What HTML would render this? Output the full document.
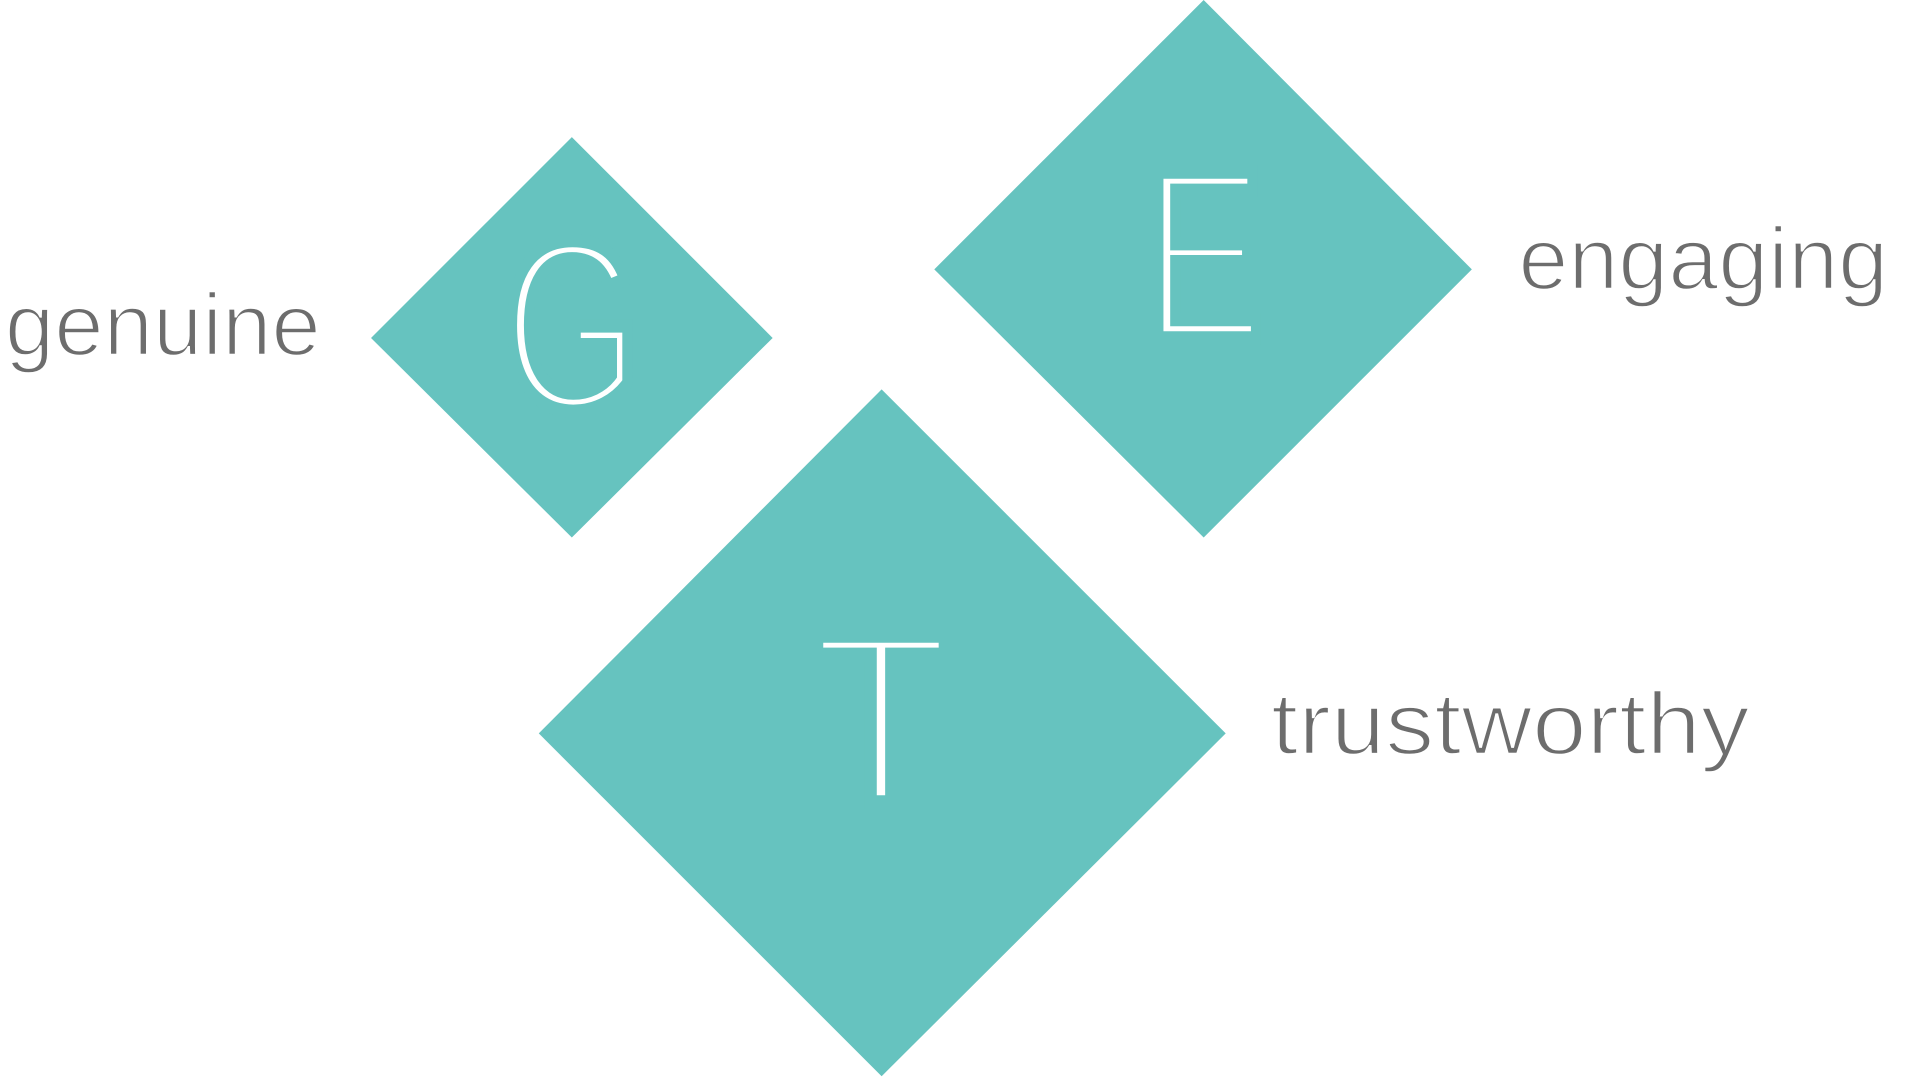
<!DOCTYPE html>
<html><head><meta charset="utf-8"><style>
html,body{margin:0;padding:0;background:#fff;width:1920px;height:1077px;overflow:hidden}
svg{display:block}
</style></head><body>
<svg width="1920" height="1077" viewBox="0 0 1568 879.6" preserveAspectRatio="none" xmlns="http://www.w3.org/2000/svg">
<g fill="#66c3bf">
<polygon points="467,112 631,276 467,439 303,276"/>
<polygon points="983,0 1202,220 983,439 763,220"/>
<polygon points="720,318 1001,599 720,879 440,599"/>
</g>
<g font-family="'Liberation Sans', sans-serif" fill="#fff" font-size="197" stroke="#66c3bf" stroke-width="11">
<text x="411" y="334" textLength="112" lengthAdjust="spacingAndGlyphs">G</text>
<text x="934" y="276" textLength="98" lengthAdjust="spacingAndGlyphs">E</text>
<text x="663" y="655" textLength="113" lengthAdjust="spacingAndGlyphs">T</text>
</g>
<g font-family="'Liberation Sans', sans-serif" fill="#6d6d6d" font-size="72" stroke="#fff" stroke-width="2">
<text x="4" y="290" textLength="258" lengthAdjust="spacingAndGlyphs">genuine</text>
<text x="1240" y="236" textLength="302" lengthAdjust="spacingAndGlyphs">engaging</text>
<text x="1038" y="616" textLength="391" lengthAdjust="spacingAndGlyphs">trustworthy</text>
</g>
</svg>
</body></html>
